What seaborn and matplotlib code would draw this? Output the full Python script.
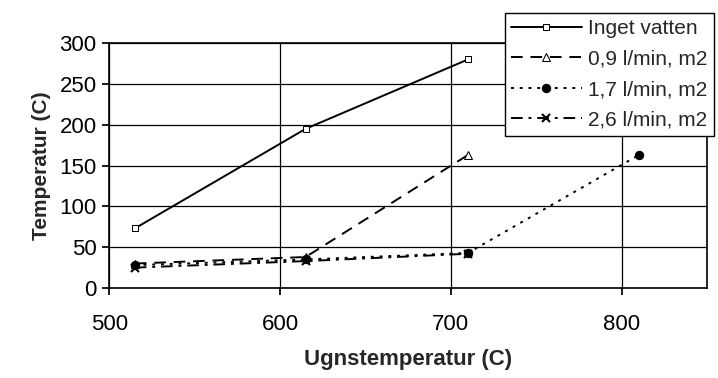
import matplotlib
matplotlib.use("Agg")
import matplotlib.pyplot as plt
import seaborn as sns
import pandas as pd

ugn_x = [515, 615, 710]
ugn_x4 = [515, 615, 710, 810]
inget_vatten = [73, 195, 280]
flow_09 = [30, 38, 163]
flow_17 = [28, 35, 43, 163]
flow_26 = [25, 33, 42]

series_names = ["Inget vatten", "0,9 l/min, m2", "1,7 l/min, m2", "2,6 l/min, m2"]
x_ticks = [500, 600, 700, 800]
y_ticks = [0, 50, 100, 150, 200, 250, 300]

sns.set_theme(style="white")
plt.rcParams['font.family'] = ['Liberation Sans', 'DejaVu Sans']

fig = plt.figure(figsize=(7.18, 3.78), dpi=100)
ax = fig.add_axes([0.152, 0.238, 0.833, 0.648])

specs = [
    (ugn_x, inget_vatten, series_names[0], dict(linestyle='-', marker='s', markerfacecolor='white', markersize=5)),
    (ugn_x, flow_09, series_names[1], dict(linestyle=(0, (6, 4)), marker='^', markerfacecolor='white', markersize=6)),
    (ugn_x4, flow_17, series_names[2], dict(linestyle=(0, (1.5, 3)), marker='o', markerfacecolor='black', markersize=6)),
    (ugn_x, flow_26, series_names[3], dict(linestyle=(0, (6, 3, 1.5, 3)), marker='x', markersize=6, markeredgewidth=1.5)),
]
for xs, ys, name, kw in specs:
    df = pd.DataFrame({"x": xs, "y": ys})
    sns.lineplot(data=df, x="x", y="y", ax=ax, color='black', linewidth=1.4,
                 markeredgecolor='black', label=name, **kw)

ax.set_xlim(500, 850)
ax.set_ylim(0, 300)
ax.set_xticks(x_ticks)
ax.set_yticks(y_ticks)
ax.grid(True, color='black', linewidth=0.9)
for s in ax.spines.values():
    s.set_color('black')
    s.set_linewidth(1.2)
ax.tick_params(axis='both', labelsize=16, colors='black', length=5, direction='out',
               bottom=True, left=True)
ax.tick_params(axis='x', pad=14)
ax.tick_params(axis='y', pad=4)
ax.set_xlabel("Ugnstemperatur (C)", fontsize=16, fontweight='bold', labelpad=10)
ax.set_ylabel("Temperatur (C)", fontsize=15, fontweight='bold', labelpad=6)

leg = ax.legend(loc='upper left', bbox_to_anchor=(0.703, 0.966), bbox_transform=fig.transFigure,
                frameon=True, fontsize=15, handlelength=3.4, handletextpad=0.3,
                borderpad=0.3, labelspacing=0.55, fancybox=False, borderaxespad=0)
leg.get_frame().set_edgecolor('black')
leg.get_frame().set_linewidth(1.0)
leg.get_frame().set_alpha(1)

fig.savefig("out.png", dpi=100)
